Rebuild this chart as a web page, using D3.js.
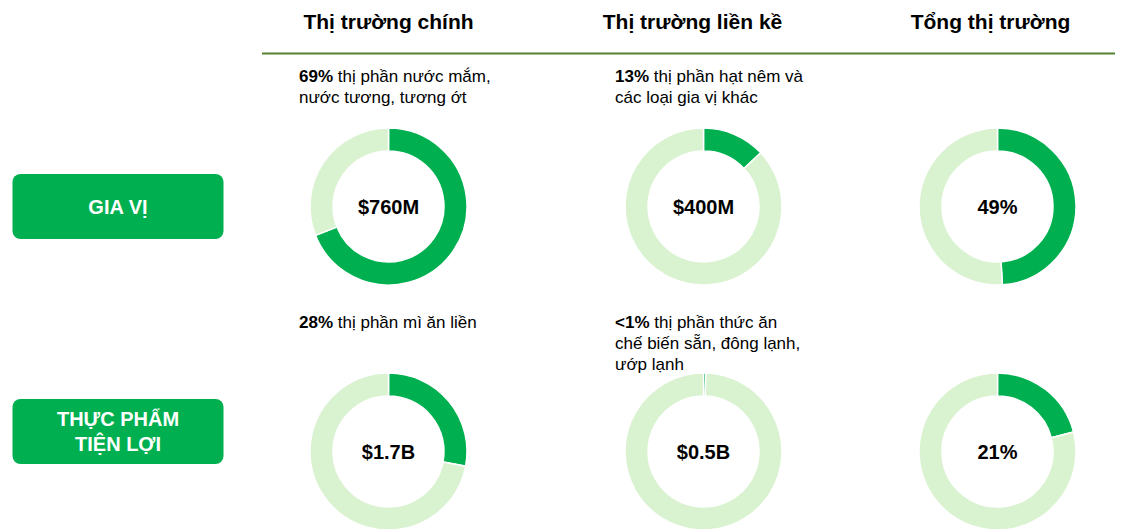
<!DOCTYPE html>
<html><head><meta charset="utf-8">
<script src="https://cdn.jsdelivr.net/npm/d3@7"></script>
<style>
html,body{margin:0;padding:0;background:#fff;}
svg{display:block;font-family:"Liberation Sans",Arial,sans-serif;}
</style></head>
<body><svg id="c" width="1122" height="529"></svg>
<script>
// ---- data ----
const columns = ["Thị trường chính", "Thị trường liền kề", "Tổng thị trường"];
const rowLabels = [["GIA VỊ"], ["THỰC PHẨM", "TIỆN LỢI"]];
const sharesGiaVi = [69, 13, 49];
const sharesTienLoi = [28, 0.5, 21];
const centerGiaVi = ["$760M", "$400M", "49%"];
const centerTienLoi = ["$1.7B", "$0.5B", "21%"];
const noteGiaVi = [
  [["69%", " thị phần nước mắm,"], ["", "nước tương, tương ớt"]],
  [["13%", " thị phần hạt nêm và"], ["", "các loại gia vị khác"]],
  null
];
const noteTienLoi = [
  [["28%", " thị phần mì ăn liền"]],
  [["<1%", " thị phần thức ăn"], ["", "chế biến sẵn, đông lạnh,"], ["", "ướp lạnh"]],
  null
];

// ---- layout ----
const svg = d3.select("#c");
const DARK = "#00b050", LIGHT = "#d9f2d0", LINE = "#548235";
const colX = d3.scaleOrdinal().domain(columns).range([388.5, 703.5, 997.5]);
const headX = d3.scaleOrdinal().domain(columns).range([388.5, 692.5, 990.5]);
const rowY = d3.scaleOrdinal().domain([0, 1]).range([206.5, 451.5]);
const noteX = d3.scaleOrdinal().domain([0, 1, 2]).range([299, 615, 0]);
const noteY = d3.scaleOrdinal().domain([0, 1]).range([82, 328]);
const boxY = d3.scaleOrdinal().domain([0, 1]).range([174, 399]);
const Ro = 78.5, Ri = 55.5;

// headers
svg.selectAll("text.head").data(columns).join("text")
  .attr("class", "head")
  .attr("x", d => headX(d)).attr("y", 29)
  .attr("text-anchor", "middle")
  .attr("font-size", 21).attr("font-weight", "bold").attr("fill", "#000")
  .text(d => d);
svg.append("line").attr("x1", 262).attr("x2", 1115).attr("y1", 53.5).attr("y2", 53.5)
  .attr("stroke", LINE).attr("stroke-width", 2);

// row boxes
rowLabels.forEach((lines, i) => {
  const g = svg.append("g");
  g.append("rect").attr("x", 12.5).attr("y", boxY(i)).attr("width", 211).attr("height", 65)
    .attr("rx", 8).attr("fill", DARK);
  const cy = boxY(i) + 32.5;
  const lh = 25;
  lines.forEach((l, k) => {
    g.append("text").attr("text-anchor", "middle").attr("fill", "#fff")
      .attr("font-size", 20).attr("font-weight", "bold")
      .attr("x", 118)
      .attr("y", cy + 7 + (k - (lines.length - 1) / 2) * lh)
      .text(l);
  });
});

// donuts
const pie = d3.pie().sort(null).value(d => d);
const arc = d3.arc().innerRadius(Ri).outerRadius(Ro);
const rowsData = [
  {shares: sharesGiaVi, center: centerGiaVi, notes: noteGiaVi},
  {shares: sharesTienLoi, center: centerTienLoi, notes: noteTienLoi}
];
rowsData.forEach((row, ri) => {
  columns.forEach((col, ci) => {
    const v = row.shares[ci];
    const g = svg.append("g").attr("transform", `translate(${colX(col)},${rowY(ri)})`);
    g.selectAll("path").data(pie([v, 100 - v])).join("path")
      .attr("d", arc)
      .attr("fill", (d, k) => k === 0 ? DARK : LIGHT)
      .attr("stroke", "#fff").attr("stroke-width", 1.5);
    g.append("text").attr("text-anchor", "middle").attr("y", 7)
      .attr("font-size", 20).attr("font-weight", "bold").attr("fill", "#000")
      .text(row.center[ci]);
    const note = row.notes[ci];
    if (note) {
      note.forEach((ln, k) => {
        const t = svg.append("text").attr("font-size", 17).attr("fill", "#000")
          .attr("x", noteX(ci)).attr("y", noteY(ri) + k * 21);
        if (ln[0]) t.append("tspan").attr("font-weight", "bold").text(ln[0]);
        t.append("tspan").text(ln[1]);
      });
    }
  });
});
</script></body></html>
